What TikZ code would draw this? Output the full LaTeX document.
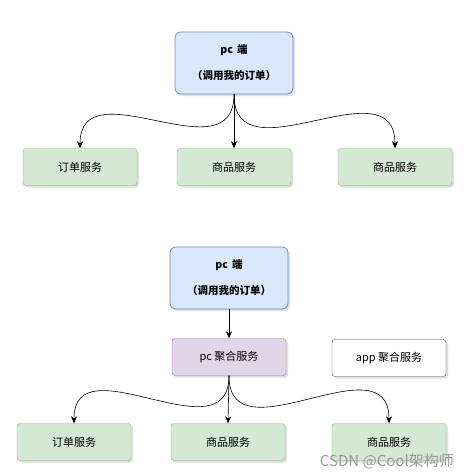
\documentclass[tikz,border=0pt]{standalone}
\usepackage{fontspec}
\setmainfont{Noto Sans CJK SC}
\usetikzlibrary{arrows.meta, positioning, shadows}
\definecolor{pcfill}{RGB}{218,232,252}
\definecolor{pcdraw}{RGB}{108,142,191}
\definecolor{svcfill}{RGB}{213,232,212}
\definecolor{svcdraw}{RGB}{130,179,102}
\definecolor{aggfill}{RGB}{225,213,231}
\definecolor{aggdraw}{RGB}{150,115,166}
\tikzset{
  client/.style = {draw=pcdraw, fill=pcfill, rounded corners=6pt, thick,
                   minimum width=118pt, minimum height=62pt, align=center,
                   font=\fontsize{10.5}{26}\selectfont\bfseries,
                   drop shadow={opacity=0.25, shadow xshift=2pt, shadow yshift=-2pt}},
  svc/.style    = {draw=svcdraw, fill=svcfill, rounded corners=3pt,
                   minimum width=114pt, minimum height=37pt,
                   font=\fontsize{11}{13}\selectfont,
                   drop shadow={opacity=0.25, shadow xshift=2pt, shadow yshift=-2pt}},
  agg/.style    = {svc, draw=aggdraw, fill=aggfill},
  idle/.style   = {svc, draw=black!70, fill=white},
  arrow/.style  = {-{Stealth[length=7pt, width=6pt]}, semithick, black},
}

\begin{document}
\begin{tikzpicture}[x=1pt, y=-1pt]
  \useasboundingbox (0,0) rectangle (469,474);
  % upper part: direct calls
  \node[client] (pcA) at (234,63) {pc\, 端\\（调用我的订单）};
  \node[svc] (orderA) at (80,167) {订单服务};
  \node[svc] (goodsA) at (234,167) {商品服务};
  \node[svc] (goodsB) at (395,167) {商品服务};
  \draw[arrow] (pcA.south) to[out=-90, in=90, looseness=1.3] (orderA.north);
  \draw[arrow] (pcA.south) -- (goodsA.north);
  \draw[arrow] (pcA.south) to[out=-90, in=90, looseness=1.3] (goodsB.north);
  % lower part: through the aggregation layer
  \node[client] (pcB) at (229,278) {pc\, 端\\（调用我的订单）};
  \node[agg] (aggPc) at (229,357) {pc 聚合服务};
  \node[idle] (aggApp) at (389,358) {app 聚合服务};
  \node[svc] (orderC) at (74,442) {订单服务};
  \node[svc] (goodsC) at (228,442) {商品服务};
  \node[svc] (goodsD) at (389,442) {商品服务};
  \draw[arrow] (pcB.south) -- (aggPc.north);
  \draw[arrow] (aggPc.south) to[out=-90, in=90, looseness=1.3] (orderC.north);
  \draw[arrow] (aggPc.south) -- (goodsC.north);
  \draw[arrow] (aggPc.south) to[out=-90, in=90, looseness=1.3] (goodsD.north);
  \node[text=black!40, font=\fontsize{15}{17}\selectfont, anchor=east, inner sep=0pt] (mark) at (454,461) {CSDN @Cool架构师};
\end{tikzpicture}
\end{document}
